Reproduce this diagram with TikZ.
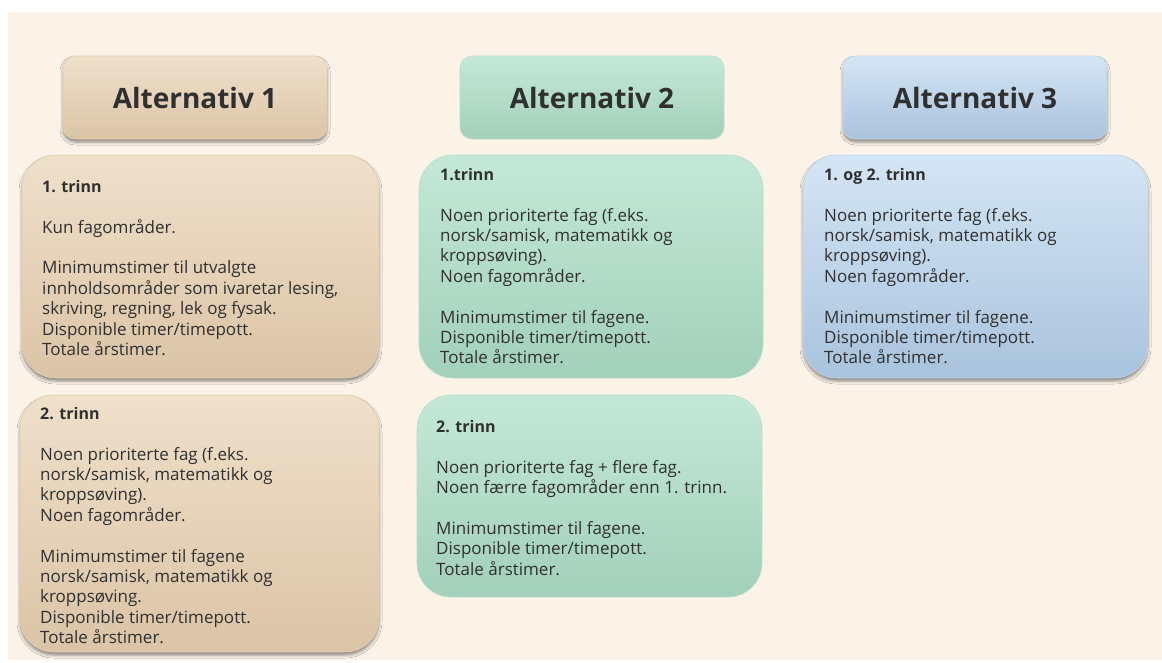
\documentclass[tikz,border=0pt]{standalone}
\usepackage{fontspec}
\setmainfont{Open Sans}
\usetikzlibrary{shadows.blur}
\definecolor{bgcream}{HTML}{FBF2E8}
\definecolor{txtdark}{HTML}{303030}
\definecolor{tanTop}{HTML}{EFE0CA}
\definecolor{tanBot}{HTML}{DBC4A6}
\definecolor{tanLine}{HTML}{E3D0B4}
\definecolor{grnTop}{HTML}{C4E8D7}
\definecolor{grnBot}{HTML}{A2D0BA}
\definecolor{grnLine}{HTML}{B6DEC9}
\definecolor{bluTop}{HTML}{D4E5F5}
\definecolor{bluBot}{HTML}{A9C3DD}
\definecolor{bluLine}{HTML}{C3D7EA}
\begin{document}
\begin{tikzpicture}[x=1pt,y=-1pt,
  card/.style={rectangle, rounded corners=34pt, inner sep=0pt, line width=0.6pt},
  head/.style={rectangle, rounded corners=12pt, inner sep=0pt, line width=0.6pt,
    font=\fontsize{28}{34}\selectfont\bfseries, text=txtdark},
  tanfill/.style={top color=tanTop, bottom color=tanBot, draw=tanLine},
  grnfill/.style={top color=grnTop, bottom color=grnBot, draw=grnLine},
  blufill/.style={top color=bluTop, bottom color=bluBot, draw=bluLine},
  shad/.style={blur shadow={shadow xshift=0pt, shadow yshift=-3pt,
    shadow blur radius=3pt, shadow opacity=45}},
  body/.style={anchor=north west, inner sep=0pt, align=left,
    font=\fontsize{17}{20.4}\selectfont, text=txtdark},
  lead/.style={font=\fontsize{16}{20.4}\selectfont\bfseries},
]
\useasboundingbox (0,0) rectangle (1162,662);
\fill[white] (0,0) rectangle (1162,662);
\fill[bgcream] (8,12) rectangle (1162,660);

% Headers
\node[head, tanfill, shad, minimum width=264pt, minimum height=83pt] (h1) at (195,97.5) {Alternativ 1};
\node[head, grnfill, minimum width=264pt, minimum height=83pt] (h2) at (592,97.5) {Alternativ 2};
\node[head, blufill, shad, minimum width=264pt, minimum height=83pt] (h3) at (975,97.5) {Alternativ 3};

% Cards
\node[card, tanfill, shad, minimum width=357pt, minimum height=223pt] (a1b1) at (200.5,266.5) {};
\node[card, tanfill, shad, minimum width=359pt, minimum height=257pt] (a1b2) at (199.5,523.5) {};
\node[card, grnfill, minimum width=344pt, minimum height=223pt] (a2b1) at (591,266.5) {};
\node[card, grnfill, minimum width=345pt, minimum height=202pt] (a2b2) at (589.5,496) {};
\node[card, blufill, shad, minimum width=345pt, minimum height=223pt] (a3b1) at (975.5,266.5) {};

% Texts
\node[body] (t11) at (42,180) {{\fontsize{16}{20.4}\selectfont\bfseries 1. trinn}\\[20.4pt]
Kun fagområder.\\[20.4pt]
Minimumstimer til utvalgte\\
innholdsområder som ivaretar lesing,\\
skriving, regning, lek og fysak.\\
Disponible timer/timepott.\\
Totale årstimer.};

\node[body] (t12) at (40,407) {{\fontsize{16}{20.4}\selectfont\bfseries 2. trinn}\\[20.4pt]
Noen prioriterte fag (f.eks.\\
norsk/samisk, matematikk og\\
kroppsøving).\\
Noen fagområder.\\[20.4pt]
Minimumstimer til fagene\\
norsk/samisk, matematikk og\\
kroppsøving.\\
Disponible timer/timepott.\\
Totale årstimer.};

\node[body] (t21) at (440,168) {{\fontsize{16}{20.4}\selectfont\bfseries 1.trinn}\\[20.4pt]
Noen prioriterte fag (f.eks.\\
norsk/samisk, matematikk og\\
kroppsøving).\\
Noen fagområder.\\[20.4pt]
Minimumstimer til fagene.\\
Disponible timer/timepott.\\
Totale årstimer.};

\node[body] (t22) at (436,420) {{\fontsize{16}{20.4}\selectfont\bfseries 2. trinn}\\[20.4pt]
Noen prioriterte fag + flere fag.\\
Noen færre fagområder enn 1. trinn.\\[20.4pt]
Minimumstimer til fagene.\\
Disponible timer/timepott.\\
Totale årstimer.};

\node[body] (t31) at (824,168) {{\fontsize{16}{20.4}\selectfont\bfseries 1. og 2. trinn}\\[20.4pt]
Noen prioriterte fag (f.eks.\\
norsk/samisk, matematikk og\\
kroppsøving).\\
Noen fagområder.\\[20.4pt]
Minimumstimer til fagene.\\
Disponible timer/timepott.\\
Totale årstimer.};
\end{tikzpicture}
\end{document}
